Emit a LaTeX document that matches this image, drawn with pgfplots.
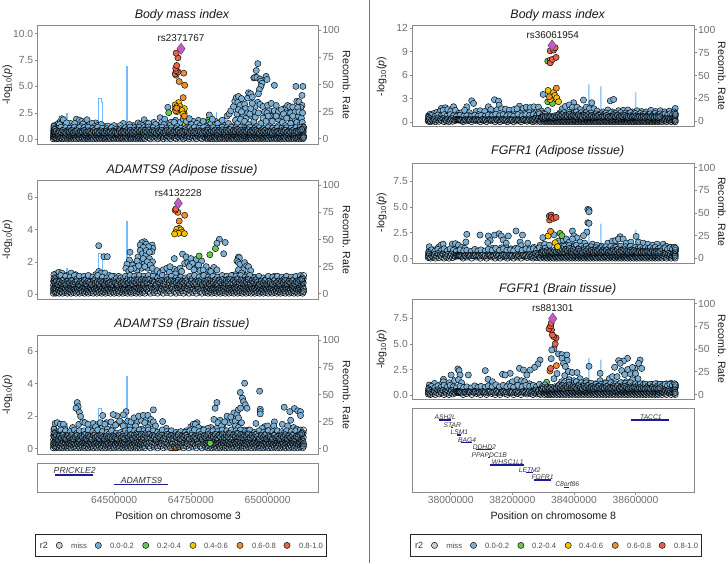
\documentclass[border=0pt]{standalone}
\usepackage{fontspec}
\setmainfont{Liberation Sans}
\usepackage{pgfplots}
\pgfplotsset{compat=1.18}

\definecolor{snpblue}{HTML}{7BAFD4}
\definecolor{snpmiss}{HTML}{CCCCCC}
\definecolor{snpgreen}{HTML}{66C94A}
\definecolor{snpgold}{HTML}{F7C300}
\definecolor{snporange}{HTML}{F28E2B}
\definecolor{snpred}{HTML}{E9624A}
\definecolor{snppurple}{HTML}{C957C9}
\definecolor{recomb}{HTML}{74BCFB}
\definecolor{genebar}{HTML}{1C1C96}
\definecolor{framegray}{HTML}{8A8A8A}
\definecolor{ticktext}{HTML}{6E6E6E}

\pgfplotsset{
  panel/.style={scale only axis, width=#1pt, scaled x ticks=false,
    axis line style={framegray,line width=.9pt},
    tick style={framegray,line width=.6pt},
    major tick length=2.5pt, tick align=outside,
    ticklabel style={font=\fontsize{10.3}{12}\selectfont,text=ticktext,inner sep=1.5pt}},
  locA/.style={panel=281, xmin=64250, xmax=65165},
  locB/.style={panel=282, xmin=37874, xmax=38790},
  snps/.style={only marks, mark=*, mark size=3.1pt,
    mark options={draw=black,line width=.45pt,fill=#1}},
  % weak SNPs are so many that their outlines stay visible through each other
  weak/.style={only marks, mark=*, mark size=3.1pt,
    mark options={draw=black,line width=.5pt,fill=snpblue,fill opacity=.3}},
  lead/.style={only marks, mark=diamond*, mark size=5.6pt,
    mark options={draw=black!70,line width=.4pt,fill=snppurple}},
  recline/.style={recomb, line width=.9pt, line join=miter},
}

% right hand axis with the recombination rate, drawn under the points
\newcommand\recaxis[5]{%
  \begin{axis}[#1, at={(#2pt,#3pt)}, anchor=south west, height=#4pt,
    axis y line*=right, axis x line=none,
    ymin=-5, ymax=105, ytick={0,25,50,75,100},
    yticklabels={0,25,50,75,100}]
    #5
  \end{axis}}

\newcommand\recA{\addplot[recline] coordinates {
 (64298,2)(64306,2)(64306,0)(64346,0)(64346,23)(64347,23)(64347,0)(64448,0)(64448,37)(64460,37)(64460,33)(64463,33)(64463,0)(64541,0)(64541,67)(64542,67)(64542,0)(64833,0)(64833,24)(64834,24)(64834,0)(65117,0)(65117,3)(65122,3)};}
\newcommand\recB{\addplot[recline,line width=1.3pt,color=recomb!75] coordinates {
 (37985,0)(38020,0)(38020,2)(38021,0)(38448,0)(38448,39.5)(38449,39.5)(38449,0)(38487,0)(38487,37.5)(38488,37.5)(38488,0)(38600,0)(38600,31)(38601,31)(38601,0)(38729,0)};}

% moderately weak SNPs, common to the panels of a locus
\newcommand\midA{\addplot[snps=snpblue] coordinates {
(64306,.85)(64312,1.05)(64320,.8)(64327,1.15)(64335,.9)(64342,1.1)(64349,.85)(64357,1.05)(64364,.8)(64371,1.15)(64379,.95)(64387,1.1)(64394,.8)(64402,1.1)(64409,.9)(64416,1.15)(64424,.85)(64431,1.05)(64439,.95)(64447,1.15)(64454,.85)(64462,1.05)(64469,.8)(64477,1)(64484,.9)(64492,1.1)(64499,.85)(64507,.95)(64514,.85)(64522,1)(64529,.9)(64537,1.1)(64544,.95)(64552,1.15)(64559,.85)(64567,1.1)(64574,.95)(64582,1.15)(64589,.85)(64597,1.1)(64604,.95)(64612,1.15)(64619,.9)(64627,1.1)(64634,.85)(64642,1)(64649,.9)(64657,1.15)(64664,.85)(64672,1.05)(64679,.9)(64687,1.1)(64694,.85)(64702,1)(64709,.9)(64717,1.05)(64724,.85)(64732,1)(64739,.9)(64747,1.1)(64754,.95)(64762,1.15)(64769,.85)(64777,1.05)(64784,.9)(64792,1.15)(64799,.85)(64807,1.05)(64814,.95)(64822,1.1)(64829,.85)(64837,1.05)(64844,.9)(64852,1.15)(64859,.85)(64867,1.1)(64874,.95)(64882,1.15)(64889,.85)(64897,1.1)(64904,.9)(64912,1.15)(64919,.85)(64927,1.05)(64934,.95)(64942,1.15)(64949,.85)(64957,1)(64964,.9)(64972,1.1)(64979,.85)(64987,1)(64994,.9)(65002,1.1)(65009,.85)(65017,1.05)(65024,.9)(65032,1.1)(65039,.85)(65047,1.05)(65054,.95)(65062,1.1)(65069,.85)(65077,1.05)(65084,.9)(65092,1.1)(65099,.85)(65107,1.15)(65113,1)};}
\newcommand\midB{\addplot[snps=snpblue] coordinates {
(37929,.7)(37937,.85)(37948,.7)(37958,.9)(37968,.75)(37978,.95)(37988,.75)(37998,.95)(38008,.8)(38018,.7)(38030,.85)(38042,.75)(38052,.8)(38066,.7)(38078,.9)(38088,.75)(38098,.85)(38112,.75)(38122,.9)(38134,.8)(38146,1)(38158,.8)(38170,.95)(38182,.8)(38194,.85)(38204,.75)(38218,.95)(38232,.8)(38244,.95)(38256,.85)(38268,.95)(38278,.8)(38288,1.05)(38298,.85)(38306,1)(38352,1)(38360,.85)(38368,1.2)(38376,.95)(38384,1.25)(38392,1)(38400,1.15)(38408,1.3)(38416,1)(38424,1.2)(38432,1)(38440,1.2)(38448,1)(38456,1.15)(38464,.9)(38472,1.05)(38480,.9)(38488,1.05)(38496,.9)(38504,1.15)(38512,.95)(38520,1.2)(38528,1)(38536,1.1)(38544,.95)(38552,1.2)(38560,.95)(38568,1.15)(38576,1)(38584,1.2)(38592,.95)(38600,1.1)(38608,.95)(38616,1.1)(38624,.95)(38632,1.05)(38640,.9)(38648,1.05)(38656,.9)(38664,1.1)(38672,.9)(38680,1.05)(38688,.9)(38696,1.05)(38704,.9)(38712,1.05)(38720,.95)(38727,1.1)};}

% the mass of weak SNPs sits at the same positions in all the panels of a locus
\newcommand\lowA{\addplot[weak] coordinates {
(64302,.05)(64302,.3)(64303,.55)(64303,.8)(64304,1)(64304,1.2)(64305,.15)(64305,.4)(64306,.7)(64307,.95)(64308,.2)(64309,.5)(64310,.05)(64311,.35)(64313,.6)(64314,.1)(64316,.45)(64318,.25)(64319,.6)(64321,.05)(64323,.35)(64325,.5)(64326,.15)(64328,.6)
(64330,.3)(64332,.05)(64334,.45)(64336,.2)(64338,.6)(64340,.1)(64342,.35)(64344,.55)(64346,.2)(64348,.05)(64350,.4)(64352,.6)(64354,.15)(64356,.3)(64358,.5)(64360,.05)(64362,.25)(64364,.6)(64366,.4)(64368,.1)(64370,.3)(64372,.55)(64374,.2)(64376,.05)(64378,.45)(64380,.3)(64382,.6)(64384,.15)(64386,.4)(64388,.05)(64390,.5)(64392,.25)(64394,.6)(64396,.1)(64398,.35)
(64400,.5)(64402,.2)(64404,.05)(64406,.4)(64408,.6)(64410,.15)(64412,.3)(64414,.5)(64416,.05)(64418,.25)(64420,.6)(64422,.4)(64424,.1)(64426,.3)(64428,.55)(64430,.2)(64432,.05)(64434,.45)(64436,.3)(64438,.6)(64440,.15)(64442,.4)(64444,.05)(64446,.5)(64448,.25)(64450,.6)(64452,.1)(64454,.35)(64456,.5)(64458,.2)(64460,.05)(64462,.4)(64464,.6)(64466,.15)(64468,.3)(64470,.5)(64472,.05)(64474,.25)(64476,.6)(64478,.4)(64480,.1)(64482,.3)(64484,.55)(64486,.2)(64488,.05)(64490,.45)(64492,.3)(64494,.6)(64496,.15)(64498,.4)
(64500,.05)(64502,.5)(64504,.25)(64506,.6)(64508,.1)(64510,.35)(64512,.5)(64514,.2)(64516,.05)(64518,.4)(64520,.6)(64522,.15)(64524,.3)(64526,.5)(64528,.05)(64530,.25)(64532,.6)(64534,.4)(64536,.1)(64538,.3)(64540,.55)(64542,.2)(64544,.05)(64546,.45)(64548,.3)(64550,.6)(64552,.15)(64554,.4)(64556,.05)(64558,.5)(64560,.25)(64562,.6)(64564,.1)(64566,.35)(64568,.5)(64570,.2)(64572,.05)(64574,.4)(64576,.6)(64578,.15)(64580,.3)(64582,.5)(64584,.05)(64586,.25)(64588,.6)(64590,.4)(64592,.1)(64594,.3)(64596,.55)(64598,.2)
(64600,.05)(64603,.45)(64606,.3)(64609,.6)(64612,.15)(64615,.4)(64618,.05)(64621,.5)(64624,.25)(64627,.6)(64630,.1)(64633,.35)(64636,.5)(64639,.2)(64642,.05)(64645,.4)(64648,.6)(64651,.15)(64654,.3)(64657,.5)(64660,.05)(64663,.25)(64666,.6)(64669,.4)(64672,.1)(64675,.3)(64678,.55)(64681,.2)(64684,.05)(64687,.45)(64690,.3)(64693,.6)(64696,.15)(64699,.4)
(64702,.05)(64705,.5)(64708,.25)(64711,.6)(64714,.1)(64717,.35)(64720,.5)(64723,.2)(64726,.05)(64729,.4)(64732,.6)(64735,.15)(64738,.3)(64741,.5)(64744,.05)(64747,.25)(64750,.6)(64753,.4)(64756,.1)(64759,.3)(64762,.55)(64765,.2)(64768,.05)(64771,.45)(64774,.3)(64777,.6)(64780,.15)(64783,.4)(64786,.05)(64789,.5)(64792,.25)(64795,.6)(64798,.1)
(64800,.35)(64802,.5)(64804,.2)(64806,.05)(64808,.4)(64810,.6)(64812,.15)(64814,.3)(64816,.5)(64818,.05)(64820,.25)(64822,.6)(64824,.4)(64826,.1)(64828,.3)(64830,.55)(64832,.2)(64834,.05)(64836,.45)(64838,.3)(64840,.6)(64842,.15)(64844,.4)(64846,.05)(64848,.5)(64850,.25)(64852,.6)(64854,.1)(64856,.35)(64858,.5)(64860,.2)(64862,.05)(64864,.4)(64866,.6)(64868,.15)(64870,.3)(64872,.5)(64874,.05)(64876,.25)(64878,.6)(64880,.4)(64882,.1)(64884,.3)(64886,.55)(64888,.2)(64890,.05)(64892,.45)(64894,.3)(64896,.6)(64898,.15)
(64900,.4)(64902,.05)(64904,.5)(64906,.25)(64908,.6)(64910,.1)(64912,.35)(64914,.5)(64916,.2)(64918,.05)(64920,.4)(64922,.6)(64924,.15)(64926,.3)(64928,.5)(64930,.05)(64932,.25)(64934,.6)(64936,.4)(64938,.1)(64940,.3)(64942,.55)(64944,.2)(64946,.05)(64948,.45)(64950,.3)(64952,.6)(64954,.15)(64956,.4)(64958,.05)(64960,.5)(64962,.25)(64964,.6)(64966,.1)(64968,.35)(64970,.5)(64972,.2)(64974,.05)(64976,.4)(64978,.6)(64980,.15)(64982,.3)(64984,.5)(64986,.05)(64988,.25)(64990,.6)(64992,.4)(64994,.1)(64996,.3)(64998,.55)
(65000,.2)(65002,.05)(65004,.45)(65006,.3)(65008,.6)(65010,.15)(65012,.4)(65014,.05)(65016,.5)(65018,.25)(65020,.6)(65022,.1)(65024,.35)(65026,.5)(65028,.2)(65030,.05)(65032,.4)(65034,.6)(65036,.15)(65038,.3)(65040,.5)(65042,.05)(65044,.25)(65046,.6)(65048,.4)(65050,.1)(65052,.3)(65054,.55)(65056,.2)(65058,.05)(65060,.45)(65062,.3)(65064,.6)(65066,.15)(65068,.4)(65070,.05)(65072,.5)(65074,.25)(65076,.6)(65078,.1)(65080,.35)(65082,.5)(65084,.2)(65086,.05)(65088,.4)(65090,.6)(65092,.15)(65094,.3)(65096,.5)(65098,.05)
(65100,.25)(65102,.6)(65104,.4)(65106,.1)(65108,.3)(65110,.55)(65112,.2)(65113,.8)(65114,.05)(65115,.45)(65116,.7)(65116,.95)(65117,.3)(65117,.15)(65117,1.15)};
\addplot[weak] coordinates {
(64307,.72)(64312,.81)(64317,.58)(64322,.76)(64329,.66)(64333,.84)(64339,.7)(64343,.6)(64349,.79)(64355,.68)(64361,.85)(64367,.62)(64373,.74)(64379,.82)(64385,.6)(64391,.78)(64397,.7)(64403,.86)(64409,.64)(64415,.8)(64421,.72)(64427,.6)(64433,.82)(64439,.68)(64445,.76)(64451,.62)(64457,.8)(64463,.7)(64469,.6)(64475,.78)(64481,.66)(64487,.72)(64493,.6)(64499,.76)(64505,.68)(64511,.6)(64517,.8)(64523,.66)(64529,.74)(64535,.62)(64541,.8)(64547,.7)(64553,.86)(64559,.64)(64565,.82)(64571,.7)(64577,.88)(64583,.74)(64589,.9)(64595,.68)(64601,.84)(64607,.7)(64613,.9)(64619,.66)(64625,.82)(64631,.72)(64637,.6)(64643,.78)(64649,.68)(64655,.84)(64661,.62)(64667,.76)(64673,.88)(64679,.7)(64685,.82)(64691,.62)(64697,.78)(64703,.7)(64709,.85)(64715,.62)(64721,.76)(64727,.68)(64733,.82)(64739,.7)(64745,.6)(64751,.8)(64757,.66)(64763,.74)(64769,.62)(64775,.8)(64781,.7)(64787,.6)(64793,.78)(64799,.68)(64805,.86)(64811,.64)(64817,.8)(64823,.72)(64829,.88)(64835,.66)(64841,.82)(64847,.72)(64853,.9)(64859,.68)(64865,.84)(64871,.72)(64877,.92)(64883,.7)(64889,.86)(64895,.74)(64901,.95)(64907,.72)(64913,.88)(64919,.68)(64925,.84)(64931,.72)(64937,.9)(64943,.66)(64949,.82)(64955,.7)(64961,.88)(64967,.74)(64973,.6)(64979,.8)(64985,.68)(64991,.84)(64997,.62)(65003,.78)(65009,.7)(65015,.6)(65021,.82)(65027,.68)(65033,.76)(65039,.62)(65045,.8)(65051,.7)(65057,.86)(65063,.64)(65069,.78)(65075,.68)(65081,.82)(65087,.62)(65093,.76)(65099,.7)(65105,.86)(65111,.92)};}

\newcommand\lowB{\addplot[weak] coordinates {
(37927,.1)(37927,.35)(37928,.6)(37929,.2)(37931,.45)(37934,.05)(37938,.3)(37942,.15)(37946,.4)(37950,.05)(37954,.25)(37958,.5)(37962,.1)(37966,.35)(37970,.2)(37974,.45)(37978,.05)(37982,.3)(37986,.15)(37990,.4)(37994,.05)(37998,.25)(38002,.45)(38006,.1)(38010,.3)(38014,.2)(38018,.35)(38022,.3)(38024,.25)(38026,.35)(38028,.3)(38030,.25)(38033,.3)(38036,.2)(38040,.05)(38044,.3)(38048,.3)(38052,.15)(38056,.35)(38060,.25)(38064,.3)(38068,.05)(38072,.3)(38076,.25)(38080,.35)(38084,.15)(38088,.3)(38092,.25)(38096,.05)(38100,.3)(38104,.35)(38108,.2)(38112,.3)(38116,.05)(38120,.25)(38124,.35)(38128,.3)(38132,.15)(38136,.3)(38140,.25)(38144,.05)(38148,.35)(38152,.2)(38156,.3)(38160,.05)(38164,.25)(38168,.35)(38172,.3)(38176,.15)(38180,.3)(38184,.05)(38188,.25)(38192,.35)(38196,.2)(38200,.3)(38204,.05)(38208,.25)(38212,.35)(38216,.15)(38220,.3)(38224,.25)(38228,.05)(38232,.3)(38236,.35)(38240,.2)(38244,.3)(38248,.1)(38252,.25)(38256,.4)(38260,.15)(38264,.3)(38267,.05)(38270,.4)(38273,.2)(38276,.5)(38279,.1)(38282,.3)(38285,.45)(38288,.15)(38291,.05)
(38294,.35)(38297,.55)(38300,.2)(38302,.4)(38304,.05)(38306,.3)(38308,.55)(38310,.15)(38312,.45)(38314,.05)(38316,.3)(38318,.55)(38320,.2)(38322,.4)(38324,.05)(38326,.3)(38328,.55)(38330,.15)(38332,.45)(38334,.05)(38336,.3)(38338,.55)(38340,.2)(38342,.4)(38344,.05)(38346,.3)(38348,.55)(38350,.15)(38352,.45)(38354,.05)(38356,.3)(38358,.55)(38360,.2)(38362,.4)(38364,.05)(38366,.3)(38368,.55)(38370,.15)(38372,.45)(38374,.05)(38376,.3)(38378,.55)(38380,.2)(38382,.4)(38384,.05)(38386,.3)(38388,.55)(38390,.15)(38392,.45)(38394,.05)(38396,.3)(38398,.55)
(38400,.2)(38402,.4)(38404,.05)(38406,.3)(38408,.55)(38410,.15)(38412,.45)(38414,.05)(38416,.3)(38418,.55)(38420,.2)(38422,.4)(38424,.05)(38426,.3)(38428,.55)(38430,.15)(38432,.45)(38434,.05)(38436,.3)(38438,.55)(38440,.2)(38442,.4)(38444,.05)(38446,.3)(38448,.55)(38450,.15)(38452,.45)(38454,.05)(38456,.3)(38458,.55)(38460,.2)(38462,.4)(38464,.05)(38466,.3)(38468,.55)(38470,.15)(38472,.45)(38474,.05)(38476,.3)(38478,.55)(38480,.2)(38482,.4)(38484,.05)(38486,.3)(38488,.55)(38490,.15)(38492,.45)(38494,.05)(38496,.3)(38498,.55)
(38500,.2)(38502,.4)(38504,.05)(38506,.3)(38508,.55)(38510,.15)(38512,.45)(38514,.05)(38516,.3)(38518,.55)(38520,.2)(38522,.4)(38524,.05)(38526,.3)(38528,.55)(38530,.15)(38532,.45)(38534,.05)(38536,.3)(38538,.55)(38540,.2)(38542,.4)(38544,.05)(38546,.3)(38548,.55)(38550,.15)(38552,.45)(38554,.05)(38556,.3)(38558,.55)(38560,.2)(38562,.4)(38564,.05)(38566,.3)(38568,.55)(38570,.15)(38572,.45)(38574,.05)(38576,.3)(38578,.55)(38580,.2)(38582,.4)(38584,.05)(38586,.3)(38588,.55)(38590,.15)(38592,.45)(38594,.05)(38596,.3)(38598,.55)
(38600,.2)(38602,.4)(38604,.05)(38606,.3)(38608,.55)(38610,.15)(38612,.45)(38614,.05)(38616,.3)(38618,.55)(38620,.2)(38622,.4)(38624,.05)(38626,.3)(38628,.55)(38630,.15)(38632,.45)(38634,.05)(38636,.3)(38638,.55)(38640,.2)(38642,.4)(38644,.05)(38646,.3)(38648,.55)(38650,.15)(38652,.45)(38654,.05)(38656,.3)(38658,.55)(38660,.2)(38662,.4)(38664,.05)(38666,.3)(38668,.55)(38670,.15)(38672,.45)(38674,.05)(38676,.3)(38678,.55)(38680,.2)(38683,.4)(38686,.05)(38689,.3)(38692,.5)(38695,.15)(38698,.4)(38701,.05)(38704,.3)(38707,.5)(38710,.2)(38713,.4)(38716,.05)(38719,.3)(38722,.5)(38725,.15)(38727,.4)(38728,.6)(38729,.05)(38729,.25)(38729,.8)(38730,1)};
\addplot[weak] coordinates {
(38295,.62)(38301,.72)(38307,.6)(38313,.78)(38319,.66)(38325,.74)(38331,.6)(38337,.8)(38343,.68)(38349,.9)(38355,.72)(38361,.95)(38367,.66)(38373,.88)(38379,.74)(38385,1)(38391,.7)(38397,.9)(38403,.78)(38409,.66)(38415,.92)(38421,.74)(38427,.62)(38433,.86)(38439,.72)(38445,.94)(38451,.68)(38457,.82)(38463,.62)(38469,.78)(38475,.7)(38481,.86)(38487,.62)(38493,.76)(38499,.68)(38505,.84)(38511,.6)(38517,.74)(38523,.66)(38529,.82)(38535,.7)(38541,.9)(38547,.62)(38553,.78)(38559,.68)(38565,.86)(38571,.72)(38577,.62)(38583,.8)(38589,.66)(38595,.78)(38601,.7)(38607,.6)(38613,.74)(38619,.62)(38625,.7)(38631,.6)(38637,.72)(38643,.66)(38649,.6)(38655,.74)(38661,.62)(38667,.7)(38673,.6)(38679,.72)};}

\newcommand\genetrack[1]{\addplot[genebar,line width=1.2pt] coordinates {#1};}

\newcommand\legendbox[1]{%
  \begin{axis}[scale only axis, width=291pt, height=22.6pt, at={(#1pt,6.3pt)}, anchor=south west,
    xmin=0, xmax=291, ymin=0, ymax=22.6, ticks=none,
    axis line style={black!85,line width=1pt}]
    \addplot[snps=snpmiss] coordinates {(23.6,11.3)};
    \addplot[snps=snpblue] coordinates {(62.6,11.3)};
    \addplot[snps=snpgreen] coordinates {(110,11.3)};
    \addplot[snps=snpgold] coordinates {(157.3,11.3)};
    \addplot[snps=snporange] coordinates {(204.3,11.3)};
    \addplot[snps=snpred] coordinates {(251.3,11.3)};
    \node[font=\fontsize{9}{10}\selectfont,text=black!80] at (axis cs:8.3,11.3) {r2};
    \node[legtext] at (axis cs:43.3,11.3) {miss};
    \node[legtext] at (axis cs:86.3,11.3) {0.0-0.2};
    \node[legtext] at (axis cs:133.3,11.3) {0.2-0.4};
    \node[legtext] at (axis cs:180.3,11.3) {0.4-0.6};
    \node[legtext] at (axis cs:228.3,11.3) {0.6-0.8};
    \node[legtext] at (axis cs:275.3,11.3) {0.8-1.0};
  \end{axis}}

\begin{document}
\begin{tikzpicture}[x=1pt,y=1pt,
  legtext/.style={font=\fontsize{7.7}{9}\selectfont,text=black!70},
  ptitle/.style={font=\fontsize{12.4}{14}\selectfont\itshape,text=black!90},
  atitle/.style={font=\fontsize{10.6}{12}\selectfont,text=black!90},
  rsid/.style={font=\fontsize{9.9}{11}\selectfont,text=black!90},
  gene/.style={font=\fontsize{#1}{9}\selectfont\itshape,text=black!80,inner sep=0pt}]
\path[use as bounding box] (0,0) rectangle (728,563);
\draw[black!55,line width=1.3pt] (369.7,0) -- (369.7,563);

%--- chromosome 3, body mass index
\recaxis{locA}{37.3}{419}{119}{\recA}
\begin{axis}[locA, at={(37.3pt,419pt)}, anchor=south west, height=119pt,
  ymin=-.44, ymax=10.8, xtick=\empty, ytick pos=left,
  ytick={0,2.5,5,7.5,10}, yticklabels={0.0,2.5,5.0,7.5,10.0}]
\addplot[snps=snpgold] coordinates {(64724,1.45)(64721,1)(64719,.7)};
\addplot[snps=snpgreen] coordinates {(64770,1.04)(64808,1.83)(64808,1.6)};
\addplot[snps=snpblue] coordinates {
(64305,1.3)(64310,1.1)(64318,1.5)(64325,1.7)(64330,1.95)(64335,1.85)(64340,1.3)(64350,1.1)(64358,1.5)(64366,1.25)(64377,1.9)(64387,1.8)(64395,1.7)(64405,1.6)(64412,1.85)(64420,1.4)(64440,1.55)(64446,1.3)(64452,1.1)(64470,1.2)(64490,1.05)(64510,1.1)(64530,1.5)(64540,1.1)(64563,1.3)(64578,1.55)(64598,1.85)(64620,1.35)(64640,1.1)(64650,2.05)(64645,1.3)(64675,3.03)(64670,1.5)
(64322,1.4)(64345,1.55)(64372,1.5)(64398,1.45)(64428,1.5)(64458,1.4)(64480,1.25)(64500,1.3)(64520,1.3)(64550,1.4)(64585,1.4)(64605,1.5)(64630,1.6)(64655,1.6)(64665,1.9)(64685,1.6)(64700,1.8)(64715,1.6)(64745,1.5)(64758,1.7)(64775,1.8)(64795,1.4)(64815,1.5)(64830,1.7)(64845,1.6)
(64315,.9)(64328,1.1)(64338,.8)(64345,1)(64355,.8)(64365,.9)(64375,1.1)(64382,.8)(64392,1.2)(64400,.9)(64410,1.2)(64418,.8)(64428,1)(64436,1.2)(64444,.8)(64458,.9)(64465,.7)(64475,.9)(64483,.7)(64495,.8)(64503,.7)(64515,.9)(64522,.7)(64535,1)(64548,.8)(64556,1)(64570,1.1)(64585,.9)(64592,1.3)(64605,1)(64612,1.5)(64628,.9)(64635,1.4)(64655,1)(64662,1.4)(64682,1.3)(64690,1.1)(64696,1.6)(64705,1.2)
(64725,1.9)(64735,1.7)(64745,1.95)(64752,1.4)(64760,1.1)(64770,1.5)(64780,1.3)(64790,1.7)(64800,1.2)(64810,2.3)(64820,1.9)(64828,1.3)(64838,1.5)(64845,1.1)(64852,1.8)(64860,1.3)(64868,2.2)(64875,2.4)(64880,2.7)(64872,1.5)(64885,1.2)(64878,.9)
(64889,3.1)(64893,3.6)(64898,3.95)(64905,4.05)(64903,3.5)(64910,3.2)(64900,2.4)(64905,2.8)(64895,1.8)(64915,3.85)(64925,3.3)(64928,2.9)(64920,2.3)(64930,2)(64935,3.9)(64938,4.4)(64945,4.3)(64950,4)(64955,5.8)(64958,5.85)(64963,6.5)(64968,7.15)(64965,5.85)(64975,5.7)(64978,5.5)(64982,5.3)(64978,5)(64973,4.7)(64970,4.3)(64968,3.5)(64960,3.1)(64955,2.6)(64975,3.3)(64985,3.1)(64990,2.6)(64948,2.2)(64995,5.95)(64998,5.65)(65000,3.2)(65005,2.7)(65012,3.4)(65018,2.3)(65022,5.1)(65028,3.2)(65035,1.9)(65040,2.2)(65055,2.9)(65060,3)(65065,3.2)(65068,2.5)(65072,3.1)(65078,2)(65082,3.05)(65092,5)(65115,5)(65095,3.6)(65102,3.55)(65112,4.15)(65112,3.2)(65108,3)(65090,1.9)(65100,2.2)
(64915,2.6)(64935,2.5)(64945,2.9)(64950,3.4)(64998,2.5)(65008,2.2)(65022,2.7)(65035,2.6)(65045,2.8)(65048,2.2)(65058,2.5)(65075,2.5)(65090,2.6)(65098,3)(65108,2.6)
(64895,1.1)(64902,1.5)(64908,.9)(64912,1.9)(64918,1.2)(64925,1.7)(64932,.9)(64938,1.4)(64942,2.4)(64948,1.1)(64955,1.7)(64960,2.1)(64965,1.2)(64970,2.5)(64978,1.5)(64985,2)(64990,1)(64995,1.7)(65002,2.2)(65008,1.2)(65015,1.7)(65022,1)(65028,2.2)(65035,1.3)(65042,1)(65048,1.6)(65052,2.4)(65058,1.3)(65062,2)(65068,1)(65075,1.5)(65082,2.2)(65088,1.1)(65095,1.6)(65102,2.6)(65106,1.4)(65110,2)(65113,1.6)(65115,1.2)(65114,2.5)
(64725,.9)(64735,1.1)(64745,.8)(64755,.9)(64765,.8)(64775,.9)(64785,1)(64795,.8)(64805,1)(64815,.9)(64825,.8)(64835,1)(64842,.8)(64850,1.1)(64858,.8)(64866,1)};
\midA
\lowA
\addplot[snps=snpgreen] coordinates {(64678,2.52)(64728,2.46)};
\addplot[snps=snpgold] coordinates {(64710,3.47)(64699,3.25)(64704,3.09)(64715,3.09)(64699,2.87)(64710,2.87)(64729,2.9)(64721,2.71)(64704,2.62)(64724,2.4)};
\addplot[snps=snporange] coordinates {(64701,2.7)(64729,2.2)(64704,2.95)(64725,3.94)(64730,5.11)(64712,5.46)(64702,6.06)(64727,6.25)};
\addplot[snps=snpred] coordinates {(64699,6.18)(64708,6.37)(64702,6.5)(64701,6.72)(64704,6.97)(64708,7.7)(64702,8.14)};
\addplot[lead] coordinates {(64718,8.55)};
\node[rsid] at (axis cs:64718,9.55) {rs2371767};
\end{axis}

%--- chromosome 3, adipose tissue
\recaxis{locA}{37.3}{264}{119}{\recA}
\begin{axis}[locA, at={(37.3pt,264pt)}, anchor=south west, height=119pt,
  ymin=-.31, ymax=7.08, xtick=\empty, ytick pos=left,
  ytick={0,2,4,6}, yticklabels={0,2,4,6}]
\addplot[snps=snpgold] coordinates {(64710,1)(64718,.95)(64705,.8)};
\addplot[snps=snporange] coordinates {(64716,.35)(64706,.55)};
\addplot[snps=snpblue] coordinates {
(64450,3)(64843,3.4)(64835,3.15)(64862,3.2)(64857,2.5)(64467,2.32)(64478,2.32)(64696,2.2)(64723,2.48)(64552,2.59)(64550,2.11)(64599,3.25)(64590,3.19)(64585,3.04)(64605,3.1)(64624,3.04)(64626,2.84)(64623,2.63)(64612,2.94)(64595,2.9)(64585,2.7)(64592,2.5)(64578,2.3)(64603,2.4)(64615,2.2)(64625,2.0)(64585,2)(64598,1.9)(64570,1.9)(64560,1.8)(64542,1.85)(64538,1.6)(64548,1.4)(64575,1.5)(64590,1.6)(64610,1.6)(64630,1.3)
(64605,2.7)(64615,2.6)(64575,2.05)(64595,2.2)(64608,2)(64618,1.8)(64565,1.6)(64555,1.55)(64580,1.75)(64600,1.7)(64625,1.6)(64640,1.45)(64650,1.3)(64695,1.55)(64705,1.45)(64715,1.6)(64730,1.9)(64740,1.95)(64748,1.85)(64760,1.7)(64770,1.6)(64780,1.45)(64795,1.35)(64808,1.5)(64820,1.3)
(64310,1.25)(64320,1.35)(64330,1.3)(64345,1.15)(64360,1.3)(64375,1.2)(64385,1.05)(64400,1.05)(64420,1.1)(64440,1.2)(64450,1.4)(64458,1.3)(64470,1.3)(64485,1.15)(64500,1.1)(64515,1.1)(64530,1)(64660,1.5)(64672,1.6)(64682,1.7)(64680,1.35)(64700,1.25)(64735,2.3)(64750,2.2)(64768,2.15)(64785,2.05)(64755,1.9)(64775,1.8)(64745,1.7)(64800,1.7)(64825,1.65)(64815,1.4)(64835,1.5)(64790,1.5)(64760,1.5)(64720,1.4)(64840,1.05)
(64905,2.3)(64908,2.25)(64900,2.05)(64905,1.95)(64910,1.85)(64925,1.95)(64932,1.75)(64938,1.7)(64920,1.5)(64905,1.5)(64915,1.3)(64945,1.45)(64935,1.2)(64955,1.05)(64965,.9)(64975,.9)(64990,.95)(65002,.95)(65012,.9)(65022,1.1)(65030,.8)(65048,.95)(65060,.95)(65075,1)(65085,1)(65098,1)(65108,1)(65110,.85)(65112,.7)(64885,1.15)(64895,1.2)(64900,.95)(64918,.9)(64945,.9)(64960,.7)(65000,.7)(65040,.7)(65070,.7)};
\midA
\lowA
\addplot[snps=snpgreen] coordinates {(64777,2.36)(64812,2.44)(64830,2.82)};
\addplot[snps=snpgold] coordinates {(64712,4.08)(64704,4.02)(64718,3.98)(64721,3.83)(64701,3.81)(64710,3.77)(64729,3.75)(64697,3.73)};
\addplot[snps=snporange] coordinates {(64712,4.53)(64730,4.89)(64708,5.07)};
\addplot[snps=snpred] coordinates {(64699,5.2)(64701,5.28)};
\addplot[lead] coordinates {(64709,5.63)};
\node[rsid] at (axis cs:64709,6.25) {rs4132228};
\end{axis}

%--- chromosome 3, brain tissue
\recaxis{locA}{37.3}{109}{119}{\recA}
\begin{axis}[locA, at={(37.3pt,109pt)}, anchor=south west, height=119pt,
  ymin=-.33, ymax=7, xtick=\empty, ytick pos=left,
  ytick={0,2,4,6}, yticklabels={0,2,4,6}]
\addplot[snps=snporange] coordinates {(64700,.05)(64710,.1)(64690,.05)};
\addplot[snps=snpblue] coordinates {
(64925,4.03)(64911,3.46)(64974,3.54)(64918,3.11)(64921,2.9)(64927,2.7)(64933,2.49)(64835,2.84)(64829,2.49)(65054,2.55)(65087,2.47)(65072,2.28)(65098,2.33)(65107,2.28)(65107,2.04)(64976,2.43)(64976,2.28)(64976,2.14)(64380,2.84)(64383,2.59)(64376,2.49)(64387,2.24)(64391,1.98)(64628,2.39)(64539,2.28)(64530,2.08)(64463,2.04)(64509,2.02)(64497,2.1)(64658,1.67)
(64420,1.35)(64432,1.55)(64448,1.5)(64462,1.3)(64475,1.6)(64498,1.35)(64512,1.55)(64525,1.6)(64538,1.5)(64552,1.4)(64575,1.65)(64588,1.75)(64605,1.85)(64618,1.5)(64735,1.1)(64750,1.35)(64758,1.5)(64770,1.6)(64785,1.2)(64795,1.15)(64815,1.3)(64835,1.25)(64845,1.75)(64855,1.3)(64875,1.6)(64885,1.75)(64890,2.2)(64898,1.55)(64915,1.6)
(64305,1.2)(64308,1.55)(64315,1.6)(64325,1.5)(64335,1.5)(64340,1.2)(64350,1)(64365,1.3)(64375,1.1)(64385,1.5)(64398,1.65)(64405,1.6)(64415,1.5)(64425,1.1)(64440,1.35)(64455,1.6)(64470,1.5)(64478,1.2)(64490,1.65)(64505,1.45)(64518,1.7)(64530,1.4)(64545,1.7)(64555,1.65)(64565,1.9)(64580,2)(64595,2.05)(64610,2.05)(64620,1.8)(64628,1.65)(64635,1.4)(64600,1.6)(64570,1.4)(64590,1.2)(64610,1.3)(64628,1.05)(64650,1)(64670,1.25)(64680,1.05)(64695,.9)(64715,.9)(64730,.85)(64755,1.2)(64765,1.5)(64775,1.3)(64780,1.05)(64790,.9)(64805,1.25)(64820,1.05)(64825,1.8)(64838,1.6)(64850,1.4)(64860,1.65)(64868,2)(64880,1.95)(64895,1.7)(64900,2.1)(64905,2.4)(64912,2.5)(64905,1.9)(64895,1.4)(64905,1.3)(64915,1.1)(64900,1)(64925,1.15)(64940,1.15)(64962,1.55)(64990,1.35)(64982,1.25)(65000,1.4)(65000,1.1)(65022,1.65)(65020,1.4)(65022,1.1)(65048,1.5)(65065,1.4)(65060,.95)(65075,1.75)(65085,1.3)(65095,1.2)(65105,1.1)(65108,.85)(65110,.6)(65110,.35)(64955,.95)(64970,.9)(65040,.95)};
\midA
\lowA
\addplot[snps=snpgreen] coordinates {(64813,.33)};
\end{axis}
\begin{axis}[locA, at={(37.3pt,71pt)}, anchor=south west, height=29pt,
  ymin=0, ymax=29, ytick=\empty,
  xtick={64500,64750,65000}, xticklabels={64500000,64750000,65000000}, xtick pos=bottom,
  clip=false]
\genetrack{(64308,17)(64430,17)}
\genetrack{(64500,7.3)(64674,7.3)}
\node[gene=8.7] at (axis cs:64372,21.7) {PRICKLE2};
\node[gene=8.7] at (axis cs:64589,11.3) {ADAMTS9};
\end{axis}

%--- chromosome 8, body mass index
\recaxis{locB}{412}{437}{101}{\recB}
\begin{axis}[locB, at={(412pt,437pt)}, anchor=south west, height=101pt,
  ymin=-.5, ymax=12.4, xtick=\empty, ytick pos=left,
  ytick={0,3,6,9,12}, yticklabels={0,3,6,9,12}]
\addplot[snps=snpgold] coordinates {(38345,.85)};
\addplot[snps=snpblue] coordinates {
(38068,2.72)(38074,2.38)(38142,2.85)(38155,2.68)(38157,2.17)(38052,1.96)(37969,1.74)(37982,1.83)(38009,1.96)(38122,1.96)(38223,2.04)(38431,2.81)(38458,2.47)(38518,2.72)(38529,2.89)(38729,1.74)(38399,2.47)(38300,3.53)
(37928,.85)(37933,1)(37945,1.1)(37955,1.25)(37965,1.35)(37975,1.5)(37990,1.6)(38000,1.4)(38015,1.5)(38025,1.1)(38035,1.2)(38045,1.5)(38060,1.2)(38082,1.35)(38095,1.45)(38110,1.35)(38130,1.6)(38150,1.55)(38165,1.7)(38178,1.65)(38190,1.5)(38205,1.6)(38215,1.7)(38235,1.75)(38245,1.9)(38258,1.85)(38270,1.95)(38285,1.9)(38295,1.4)(38362,1.7)(38372,2)(38385,2.2)(38395,1.9)(38410,1.9)(38420,1.6)(38440,1.9)(38450,1.7)(38465,1.7)(38475,1.4)(38495,1.3)(38510,1.55)(38525,1.3)(38545,1.45)(38560,1.5)(38575,1.55)(38590,1.3)(38605,1.45)(38620,1.35)(38635,1.3)(38650,1.5)(38665,1.35)(38680,1.45)(38695,1.3)(38710,1.4)(38725,1.3)
(37940,.7)(37960,.9)(37980,.9)(38000,.8)(38020,.85)(38040,.7)(38055,.9)(38075,.75)(38090,.95)(38105,.8)(38125,1)(38140,.9)(38160,1.1)(38175,.9)(38190,1)(38210,1)(38225,1.1)(38240,1.1)(38255,1.2)(38270,1.1)(38285,1.2)(38300,1.1)(38315,1.5)(38355,1.2)(38365,1)(38380,1.1)(38395,1.3)(38410,1.2)(38425,1)(38440,1.1)(38455,1)(38470,1)(38485,.8)(38505,1)(38520,.85)(38535,.95)(38550,.8)(38565,1)(38585,.8)(38600,.9)(38615,.85)(38630,.8)(38645,.95)(38660,.8)(38675,.95)(38690,.8)(38705,.9)(38720,.8)(38728,1)};
\midB
\lowB
\addplot[snps=snpgreen] coordinates {(38315,2.6)(38330,2.38)(38328,3.1)};
\addplot[snps=snpgold] coordinates {(38316,4.04)(38334,3.79)(38338,3.4)(38344,3.1)(38350,2.6)(38323,2.9)};
\addplot[snps=snporange] coordinates {(38343,4.34)(38320,3.23)};
\addplot[snps=snpgreen] coordinates {(38315,7.79)};
\addplot[snps=snporange] coordinates {(38323,7.9)};
\addplot[snps=snpred] coordinates {(38323,7.57)(38330,8)(38342,8.26)(38323,9.1)(38334,9.2)(38339,9.5)};
\addplot[lead] coordinates {(38329,9.79)};
\node[rsid] at (axis cs:38331,11.1) {rs36061954};
\end{axis}

%--- chromosome 8, adipose tissue
\recaxis{locB}{412}{300}{100}{\recB}
\begin{axis}[locB, at={(412pt,300pt)}, anchor=south west, height=100pt,
  ymin=-.42, ymax=9.24, xtick=\empty, ytick pos=left,
  ytick={0,2.5,5,7.5}, yticklabels={0.0,2.5,5.0,7.5}]
\addplot[snps=snpgold] coordinates {(38317,.77)(38310,.6)};
\addplot[snps=snpblue] coordinates {
(38445,4.76)(38449,4.69)(38449,4.53)(38445,3.47)(38449,3.41)(38442,2.57)(38431,2.22)(38395,2.67)(38335,2.31)(38299,2.03)(38052,2.35)(38095,2.28)(38049,1.61)(38122,2.19)(38142,2.28)(38157,2.41)(38164,2.19)(38187,2.19)(38212,2.67)(38233,2.28)(38602,2.15)(38550,2.12)
(37930,1.15)(37945,.85)(37960,1.1)(37968,1.3)(37975,1.4)(38005,1.4)(38015,1.45)(38025,1.3)(38035,1.1)(38128,1.75)(38120,1.55)(38170,1.8)(38180,1.5)(38225,1.6)(38228,1.25)(38250,1.5)(38270,1.1)(38290,1.3)(38305,1.4)(38350,1.7)(38365,1.8)(38375,1.9)(38385,1.6)(38400,2.2)(38410,2)(38420,1.6)(38395,1.9)(38435,1.5)(38460,1.4)(38475,1.3)(38490,1.2)(38510,1.5)(38525,1.7)(38535,1.75)(38545,1.9)(38560,1.9)(38570,1.5)(38585,1.6)(38610,1.6)(38625,1.5)(38640,1.4)(38655,1.3)(38670,1.4)(38690,1.4)(38700,1.2)(38715,1.1)(38725,1.05)(38729,.9)(38729,.7)(38729,.4)
(38020,.8)(38045,1)(38135,1)(38150,.9)(38165,1.05)(38180,1.05)(38195,.95)(38210,1)(38240,.9)(38255,.95)(38300,.9)(38320,1.3)(38345,1.1)(38360,1.2)(38375,1.3)(38390,1.2)(38405,1.3)(38420,1.1)(38440,1.1)(38465,1)(38480,1)(38510,1)(38540,1.2)(38555,1.1)(38570,1)(38590,1)(38605,1)(38680,1)};
\midB
\lowB
\addplot[snps=snpgreen] coordinates {(38355,2.44)(38361,2.22)};
\addplot[snps=snpgold] coordinates {(38316,2.19)(38339,1.54)(38347,1.16)};
\addplot[snps=snporange] coordinates {(38324,2.64)};
\addplot[snps=snpred] coordinates {(38321,3.73)(38320,4.12)(38326,4.21)(38327,3.99)(38334,3.89)(38342,3.99)};
\end{axis}

%--- chromosome 8, brain tissue
\recaxis{locB}{412}{164}{100}{\recB}
\begin{axis}[locB, at={(412pt,164pt)}, anchor=south west, height=100pt,
  ymin=-.39, ymax=9.4, xtick=\empty, ytick pos=left,
  ytick={0,2.5,5,7.5}, yticklabels={0.0,2.5,5.0,7.5}]
\addplot[snps=snpgold] coordinates {(38320,.1)(38310,.9)(38316,.6)(38340,.7)};
\addplot[snps=snpgreen] coordinates {(38311,1.25)(38345,.75)};
\addplot[snps=snpblue] coordinates {
(38335,4.51)(38328,4.41)(38326,3.56)(38350,4.02)(38361,3.95)(38377,3.92)(38361,3.6)(38378,3.4)(38366,3.1)(38372,2.8)(38382,2.3)(38290,3.43)(38283,3.04)(38272,2.71)(38258,2.45)(38223,2.61)(38236,2.45)(38247,1.96)(38193,2.12)(38168,2.03)(38177,1.96)(38112,2.39)(38121,1.54)(38057,1.96)(38023,2.55)(38027,2.39)(38030,1.96)(38001,1.96)(38449,2.81)(38485,2.12)(38574,3.59)(38561,3.33)(38545,3.37)(38550,3.1)(38532,2.71)(38615,3.43)(38610,3.1)(38598,2.6)(38582,2.1)(38620,2.6)(38370,1.9)(38395,2.2)(38410,2.2)(38420,1.6)(38345,2.1)(38335,1.6)
(37930,.98)(37947,1.14)(37976,1.54)(37976,1.3)(37965,1)(37985,.8)(37932,.55)(37950,.7)(37962,.65)(37972,.8)(37995,1.2)(38012,1.4)(38025,1.5)(38035,1.2)(38045,.6)(38065,.5)(38085,.6)(38100,.5)(38125,.9)(38135,1.3)(38145,.9)(38160,.7)(38190,1.1)(38200,1.3)(38215,1.5)(38230,1.4)(38240,1.3)(38255,1.1)(38270,.7)(38290,.9)(38305,.8)(38360,1.3)(38385,1.5)(38400,1.4)(38415,1.2)(38430,1)(38440,1.4)(38455,1)(38470,1.1)(38485,1.4)(38500,1.2)(38515,1.6)(38525,1.8)(38540,1.8)(38555,2.4)(38565,2)(38575,2.5)(38590,2.7)(38600,2.1)(38608,1.6)(38590,1.5)(38570,1.3)(38555,1.2)(38530,1.1)(38625,1.1)(38640,1)(38655,1.05)(38670,1.1)(38685,1.05)(38700,1.1)(38715,1.15)(38725,1.05)(38729,.75)};
\midB
\lowB
\addplot[snps=snporange] coordinates {(38343,2.88)(38322,2.35)};
\addplot[snps=snpred] coordinates {(38324,2.6)(38339,5)(38342,5.59)(38334,5.72)(38330,5.88)(38327,6.37)(38319,6.47)(38324,6.76)(38326,7.03)};
\addplot[lead] coordinates {(38331,7.48)};
\node[rsid] at (axis cs:38331,8.5) {rs881301};
\end{axis}
\begin{axis}[locB, at={(412pt,71pt)}, anchor=south west, height=84pt,
  ymin=0, ymax=84, ytick=\empty,
  xtick={38000,38200,38400,38600}, xticklabels={38000000,38200000,38400000,38600000}, xtick pos=bottom]
\genetrack{(37962,72)(38001,72)}
\genetrack{(38001,64.3)(38008,64.3)}
\genetrack{(38021,57)(38034,57)}
\genetrack{(38034,49.3)(38070,49.3)}
\genetrack{(38083,42.3)(38133,42.3)}
\genetrack{(38120,34.3)(38127,34.3)}
\genetrack{(38128,27)(38239,27)}
\genetrack{(38245,19.3)(38266,19.3)}
\genetrack{(38269,12)(38326,12)}
\genetrack{(38369,4.7)(38384,4.7)}
\genetrack{(38586,72)(38709,72)}
\node[gene=6.7] at (axis cs:37982,75) {ASH2L};
\node[gene=6.7] at (axis cs:38005,67.3) {STAR};
\node[gene=6.7] at (axis cs:38028,60) {LSM1};
\node[gene=6.7] at (axis cs:38053,52.3) {BAG4};
\node[gene=6.7] at (axis cs:38109,45.3) {DDHD2};
\node[gene=6.7] at (axis cs:38125,37.3) {PPAPDC1B};
\node[gene=6.7] at (axis cs:38185,30) {WHSC1L1};
\node[gene=6.7] at (axis cs:38256,22.3) {LETM2};
\node[gene=6.7] at (axis cs:38298,15) {FGFR1};
\node[gene=6.7] at (axis cs:38378,7.7) {C8orf86};
\node[gene=6.7] at (axis cs:38650,75) {TACC1};
\end{axis}

\legendbox{35.7}
\legendbox{410.9}

% titles and axis titles (heights measured from the bottom of the figure)
\node[ptitle] at (182,548) {Body mass index};
\node[ptitle] at (182,393) {ADAMTS9 (Adipose tissue)};
\node[ptitle] at (182,238.3) {ADAMTS9 (Brain tissue)};
\node[ptitle] at (557.7,548) {Body mass index};
\node[ptitle] at (557.7,411.3) {FGFR1 (Adipose tissue)};
\node[ptitle] at (557.7,274) {FGFR1 (Brain tissue)};
\foreach \x/\y in {7.3/478,7.3/323,7.3/168,381.7/486.3,381.7/350.3,381.7/213.7}
  \node[atitle,rotate=90] at (\x,\y) {-log\textsubscript{10}(\textit{p})};
\foreach \x/\y in {346.7/478,346.7/323,346.7/168,722/487,722/351.3,722/213.7}
  \node[atitle,rotate=-90] at (\x,\y) {Recomb. Rate};
\node[atitle] at (178,47.3) {Position on chromosome 3};
\node[atitle] at (553.3,47.3) {Position on chromosome 8};
\end{tikzpicture}
\end{document}
